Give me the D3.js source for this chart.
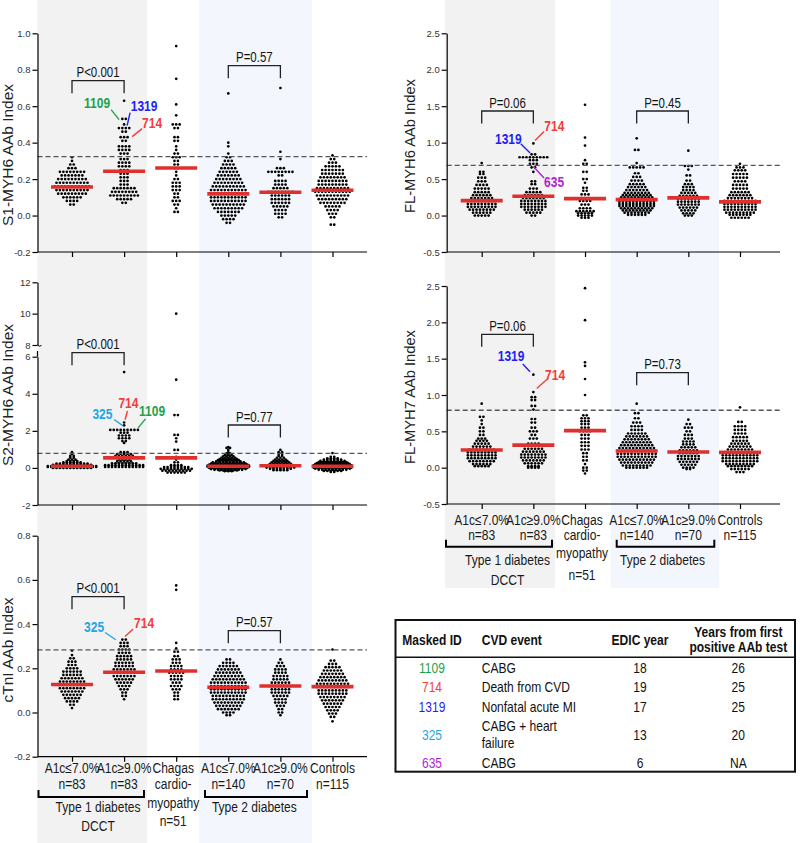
<!DOCTYPE html>
<html><head><meta charset="utf-8">
<script src="https://cdn.jsdelivr.net/npm/d3@7"></script>
<style>
body{margin:0;background:#fff}
svg{display:block}
text{font-family:"Liberation Sans",Arial,sans-serif}
</style>
</head><body>
<svg id="c" width="800" height="843"></svg>
<script>
// ---------------- DATA ----------------
const groupLabels = ["A1c\u22647.0%","A1c\u22659.0%","Chagas","A1c\u22647.0%","A1c\u22659.0%","Controls"];
const groupSub = ["n=83","n=83","cardio-","n=140","n=70","n=115"];
const chagasExtra = ["myopathy","n=51"];
const bracketLabels = [["Type 1 diabetes","DCCT"],["Type 2 diabetes"]];

const s1Rows = [
 [[0.32,1],[0.30,1],[0.28,2],[0.26,3],[0.24,8],[0.22,7],[0.20,9],[0.18,10],[0.16,11],[0.14,10],[0.12,9],[0.10,6],[0.08,4],[0.06,2]],
 [[0.63,1],[0.53,2],[0.50,1],[0.48,4],[0.46,2],[0.43,3],[0.41,2],[0.38,4],[0.36,4],[0.34,3],[0.31,3],[0.29,4],[0.27,4],[0.25,3],[0.23,3],[0.21,3],[0.19,3],[0.17,3],[0.15,7],[0.13,8],[0.11,9],[0.09,5],[0.07,2]],
 [[0.93,1],[0.75,1],[0.61,1],[0.55,1],[0.50,3],[0.48,2],[0.43,2],[0.41,2],[0.38,1],[0.36,1],[0.34,2],[0.32,3],[0.30,2],[0.28,2],[0.26,2],[0.24,1],[0.22,1],[0.20,2],[0.18,3],[0.16,3],[0.14,3],[0.12,2],[0.10,2],[0.08,3],[0.06,2],[0.04,1],[0.02,2]],
 [[0.67,1],[0.40,1],[0.38,1],[0.34,1],[0.32,2],[0.30,3],[0.28,4],[0.26,5],[0.24,6],[0.22,7],[0.20,8],[0.18,9],[0.16,10],[0.14,11],[0.12,12],[0.10,11],[0.08,11],[0.06,10],[0.04,9],[0.02,7],[0.00,5],[-0.02,4],[-0.04,2]],
 [[0.70,1],[0.35,1],[0.31,1],[0.26,3],[0.24,8],[0.22,2],[0.19,4],[0.17,4],[0.15,5],[0.13,8],[0.11,6],[0.09,6],[0.07,6],[0.05,5],[0.03,4],[0.01,4],[-0.01,2]],
 [[0.33,1],[0.31,2],[0.29,3],[0.27,5],[0.25,7],[0.23,7],[0.21,8],[0.19,9],[0.17,9],[0.15,10],[0.13,11],[0.11,10],[0.09,9],[0.07,8],[0.05,5],[0.03,4],[0.01,3],[-0.01,2],[-0.05,2]]
];
const s2Rows = [
 [[0.85,1],[0.75,1],[0.65,2],[0.55,2],[0.45,3],[0.37,4],[0.30,6],[0.23,10],[0.16,12],[0.10,15],[0.05,15],[0.0,12]],
 [[5.17,1],[2.45,1],[2.3,1],[2.05,9],[1.9,3],[1.75,4],[1.6,4],[1.45,2],[1.35,1],[0.85,3],[0.75,5],[0.65,6],[0.55,2],[0.45,4],[0.35,5],[0.25,8],[0.15,12],[0.05,12]],
 [[10.0,1],[4.76,1],[2.85,2],[1.78,2],[1.6,1],[1.42,1],[0.97,2],[0.6,1],[0.45,1],[0.3,2],[0.15,4],[0.05,8],[-0.05,10],[-0.15,9],[-0.25,6]],
 [[1.12,1],[1.08,2],[0.97,1],[0.85,1],[0.78,2],[0.7,3],[0.62,4],[0.55,5],[0.48,6],[0.42,7],[0.36,8],[0.3,10],[0.24,11],[0.18,12],[0.12,13],[0.06,13],[0.0,12],[-0.06,11],[-0.1,9],[-0.14,6],[-0.18,3]],
 [[0.97,1],[0.85,2],[0.75,2],[0.65,2],[0.55,3],[0.45,4],[0.38,5],[0.3,6],[0.22,7],[0.15,8],[0.08,9],[0.02,9],[-0.05,7],[-0.12,5]],
 [[0.8,1],[0.6,2],[0.52,4],[0.45,6],[0.38,8],[0.32,9],[0.26,10],[0.2,11],[0.14,12],[0.08,12],[0.02,12],[-0.04,11],[-0.1,9],[-0.16,6],[-0.22,2]]
];
const ctniRows = [
 [[0.28,1],[0.26,1],[0.245,2],[0.23,3],[0.215,3],[0.2,4],[0.185,6],[0.17,6],[0.155,7],[0.14,8],[0.125,9],[0.11,8],[0.095,7],[0.08,6],[0.065,5],[0.05,4],[0.035,2],[0.02,1]],
 [[0.33,2],[0.315,3],[0.3,3],[0.285,4],[0.27,4],[0.255,5],[0.24,5],[0.225,6],[0.21,6],[0.195,7],[0.18,8],[0.165,7],[0.15,6],[0.135,5],[0.12,4],[0.105,3],[0.09,2],[0.075,2],[0.06,1]],
 [[0.575,1],[0.555,1],[0.315,1],[0.29,1],[0.275,2],[0.255,2],[0.24,3],[0.225,3],[0.21,4],[0.195,4],[0.18,5],[0.165,4],[0.15,4],[0.135,3],[0.12,4],[0.105,3],[0.09,2],[0.075,2],[0.06,2]],
 [[0.24,2],[0.225,4],[0.21,6],[0.195,7],[0.18,8],[0.165,9],[0.15,10],[0.135,11],[0.12,11],[0.105,11],[0.09,11],[0.075,10],[0.06,10],[0.045,9],[0.03,8],[0.015,7],[0.0,4],[-0.012,2]],
 [[0.24,1],[0.225,2],[0.21,3],[0.195,4],[0.18,4],[0.165,5],[0.15,5],[0.135,6],[0.12,7],[0.105,6],[0.09,6],[0.075,5],[0.06,4],[0.045,4],[0.03,3],[0.015,2],[0.0,2],[-0.012,1]],
 [[0.285,1],[0.235,2],[0.22,3],[0.205,5],[0.19,6],[0.175,7],[0.16,8],[0.145,9],[0.13,10],[0.115,10],[0.1,9],[0.085,9],[0.07,8],[0.055,7],[0.04,6],[0.025,5],[0.01,4],[-0.005,3],[-0.02,2],[-0.04,1]]
];
const fl6Rows = [
 [[0.72,1],[0.6,2],[0.57,2],[0.52,3],[0.47,3],[0.42,4],[0.37,5],[0.32,5],[0.28,6],[0.24,7],[0.2,8],[0.16,9],[0.12,9],[0.08,8],[0.04,6],[0.0,5]],
 [[0.99,1],[0.84,2],[0.8,9],[0.76,3],[0.71,3],[0.66,2],[0.6,1],[0.47,2],[0.43,2],[0.37,3],[0.32,5],[0.28,6],[0.24,7],[0.2,8],[0.16,8],[0.12,8],[0.08,6],[0.04,5],[0.0,2]],
 [[1.52,1],[1.07,1],[0.96,1],[0.76,1],[0.71,2],[0.6,2],[0.5,2],[0.45,1],[0.38,2],[0.34,2],[0.29,3],[0.24,3],[0.2,4],[0.15,3],[0.1,4],[0.06,6],[0.03,5],[0.0,5],[-0.03,3]],
 [[1.06,1],[0.9,2],[0.72,1],[0.66,5],[0.58,2],[0.53,3],[0.48,4],[0.43,5],[0.39,6],[0.35,7],[0.31,8],[0.28,9],[0.25,10],[0.22,11],[0.19,11],[0.16,11],[0.13,11],[0.10,10],[0.07,9],[0.04,8],[0.01,6]],
 [[0.89,1],[0.68,3],[0.63,1],[0.55,2],[0.48,2],[0.43,3],[0.39,4],[0.35,4],[0.31,5],[0.27,6],[0.23,7],[0.19,7],[0.15,7],[0.11,6],[0.07,5],[0.03,4],[0.0,3]],
 [[0.71,1],[0.66,3],[0.62,4],[0.57,5],[0.52,5],[0.47,4],[0.42,5],[0.37,5],[0.32,6],[0.28,7],[0.24,8],[0.2,10],[0.16,10],[0.12,10],[0.08,10],[0.04,9],[0.01,7],[-0.03,6]]
];
const fl7Rows = [
 [[0.88,1],[0.7,2],[0.65,1],[0.6,1],[0.55,2],[0.5,2],[0.45,2],[0.4,3],[0.37,4],[0.33,5],[0.29,6],[0.25,8],[0.21,9],[0.17,9],[0.13,9],[0.09,8],[0.05,6],[0.02,5]],
 [[1.28,1],[1.04,1],[0.97,2],[0.93,2],[0.85,2],[0.8,1],[0.67,2],[0.62,2],[0.55,2],[0.5,3],[0.45,2],[0.4,3],[0.33,4],[0.3,6],[0.26,6],[0.22,7],[0.18,8],[0.14,8],[0.1,7],[0.06,6],[0.02,4],[0.0,4]],
 [[2.47,1],[2.03,1],[1.45,1],[1.4,1],[1.22,1],[1.0,1],[0.72,2],[0.68,3],[0.64,3],[0.6,3],[0.55,3],[0.5,4],[0.45,3],[0.4,3],[0.35,3],[0.3,3],[0.25,3],[0.2,2],[0.15,2],[0.1,2],[0.05,1],[0.0,2],[-0.04,2],[-0.08,1]],
 [[0.88,1],[0.75,2],[0.68,2],[0.62,3],[0.57,4],[0.52,4],[0.47,6],[0.43,7],[0.39,8],[0.35,9],[0.31,10],[0.27,11],[0.23,12],[0.19,12],[0.15,12],[0.11,11],[0.07,10],[0.03,9],[0.0,7]],
 [[0.66,1],[0.6,2],[0.55,3],[0.5,2],[0.45,3],[0.4,3],[0.36,4],[0.32,4],[0.28,5],[0.24,6],[0.2,6],[0.16,7],[0.12,7],[0.08,6],[0.04,5],[0.0,4],[-0.02,2]],
 [[0.83,1],[0.63,2],[0.57,4],[0.52,4],[0.47,4],[0.42,5],[0.37,5],[0.33,6],[0.29,7],[0.25,8],[0.21,10],[0.17,11],[0.13,11],[0.09,11],[0.05,9],[0.02,8],[-0.02,6],[-0.06,3]]
];

const s1Centers = [0.157,0.243,0.261,0.119,0.128,0.139];
const s2Centers = [0.09,0.54,0.54,0.09,0.12,0.09];
const ctniCenters = [0.127,0.182,0.188,0.114,0.12,0.117];
const fl6Centers = [0.205,0.264,0.232,0.219,0.242,0.187];
const fl7Centers = [0.243,0.31,0.51,0.23,0.216,0.21];

const cutoffs = {s1:0.323, s2:0.79, ctni:0.283, fl6:0.687, fl7:0.79};

const s1Ticks = [-0.2,0,0.2,0.4,0.6,0.8,1.0];
const s2TicksLo = [-2,0,2,4,6];
const s2TicksHi = [8,10,12];
const ctniTicks = [-0.2,0,0.2,0.4,0.6,0.8];
const flTicks = [-0.5,0,0.5,1.0,1.5,2.0,2.5];

const s1P = [[0,1,"P<0.001"],[3,4,"P=0.57"]];
const s2P = [[0,1,"P<0.001"],[3,4,"P=0.77"]];
const ctniP = [[0,1,"P<0.001"],[3,4,"P=0.57"]];
const fl6P = [[0,1,"P=0.06"],[3,4,"P=0.45"]];
const fl7P = [[0,1,"P=0.06"],[3,4,"P=0.73"]];

const s1Ann = [["1109",0.526],["1319",0.493],["714",0.433]];
const s2Ann = [["325",2.27],["714",2.6],["1109",2.16]];
const ctniAnn = [["325",0.329],["714",0.344]];
const fl6Ann = [["1319",0.857],["714",1.03],["635",0.673]];
const fl7Ann = [["1319",1.32],["714",1.09]];

const tableHeader = ["Masked ID","CVD event","EDIC year",["Years from first","positive AAb test"]];
const tableIds = ["1109","714","1319","325","635"];
const tableEvents = [["CABG"],["Death from CVD"],["Nonfatal acute MI"],["CABG + heart","failure"],["CABG"]];
const tableEdic = ["18","19","17","13","6"];
const tableYears = ["26","25","25","20","NA"];
const idColors = {"1109":"#1ba34a","714":"#f23c3c","1319":"#1e1ef5","325":"#1fa6e6","635":"#b21fd6"};

// ---------------- LAYOUT ----------------
const svg = d3.select("#c");
const FONT = '"Liberation Sans",Arial,sans-serif';
const DX = 3.45, R = 1.35;
const cols = {
 left: {axisX:37.5, xEnd:367, x0:72, x1:332.5, titleOff:-25, bands:[[37.5,147,"#f2f2f2"],[199,312,"#f3f7fd"]], bandBottom:843},
 right:{axisX:446.7, xEnd:780, x0:481.7, x1:740, titleOff:-32, bands:[[445,555,"#f2f2f2"],[610.7,719.3,"#f3f7fd"]], bandBottom:588}
};
Object.values(cols).forEach(C => {
  C.bands.forEach(([a,b,c]) => svg.append("rect").attr("x",a).attr("y",0).attr("width",b-a).attr("height",C.bandBottom).attr("fill",c));
});

// condensed text helper (horizontal squeeze of a real text element)
function ntext(parent, x, y, str, size, sx, anchor){
  return parent.append("text").attr("transform",`translate(${x},${y}) scale(${sx},1)`)
    .attr("font-size",size+"px").attr("text-anchor",anchor||"middle").text(str);
}

const annLayout = {
 s1:[[-5,-8,-10,-22,-11.5],[3,3,-13,17,-14.5],[8,10,-8,20,-8.5]],
 s2:[[-1,-9,-6.3,-20.7,-6.8],[1,2.3,-8.7,3.3,-11.8],[14,7.4,-9,14,-12.1]],
 ctni:[[-8.3,-10.7,-7.3,-21.7,-7.8],[1,8,-7.4,19,-8.9]],
 fl6:[[-3.3,-9.3,-9.3,-21.7,-8.8],[1.7,9,-9,19.3,-9.5],[0,10.7,11.6,20.7,20.5]],
 fl7:[[-3.3,-7.3,-7.7,-19,-11.2],[3.4,10,-9,18.3,-8.8]]
};

const panels = [
 {key:"s1",col:"left",title:"S1-MYH6 AAb Index",titleY:155,titleSize:15.5,rows:s1Rows,centers:s1Centers,domain:[-0.2,1.0],range:[252,33.3],ticks:s1Ticks,fmt:d=>d.toFixed(1),p:s1P,pTop:[80.7,65.7],ann:s1Ann},
 {key:"s2",col:"left",title:"S2-MYH6 AAb Index",titleY:395,titleSize:15.5,rows:s2Rows,centers:s2Centers,domain:[-2,6],range:[505,356.7],ticks:s2TicksLo,
   broken:{domain:[8,12],range:[345,282.3],ticks:s2TicksHi},fmt:d=>String(d),p:s2P,pTop:[352.7,425],ann:s2Ann},
 {key:"ctni",col:"left",title:"cTnI AAb Index",titleY:650,titleSize:15.5,rows:ctniRows,centers:ctniCenters,domain:[-0.2,0.8],range:[756.7,535.7],ticks:ctniTicks,fmt:d=>d.toFixed(1),p:ctniP,pTop:[596.7,630.7],ann:ctniAnn},
 {key:"fl6",col:"right",title:"FL-MYH6 AAb Index",titleY:146,titleSize:14.7,rows:fl6Rows,centers:fl6Centers,domain:[-0.5,2.5],range:[252,33.3],ticks:flTicks,fmt:d=>d.toFixed(1),p:fl6P,pTop:[111,111],ann:fl6Ann},
 {key:"fl7",col:"right",title:"FL-MYH7 AAb Index",titleY:397,titleSize:14.7,rows:fl7Rows,centers:fl7Centers,domain:[-0.5,2.5],range:[504,286],ticks:flTicks,fmt:d=>d.toFixed(1),p:fl7P,pTop:[334.3,372.7],ann:fl7Ann}
];

function styleAxis(sel){
  sel.selectAll("path,line").attr("stroke","#000").attr("stroke-width",1.2);
  sel.selectAll("text").attr("font-family",FONT).attr("font-size","9.5px").attr("fill","#333");
}

panels.forEach(P => {
  const C = cols[P.col];
  const g = svg.append("g");
  const x = d3.scalePoint().domain(d3.range(6)).range([C.x0, C.x1]);
  const lo = d3.scaleLinear().domain(P.domain).range(P.range);
  let y = lo, hi = null;
  if (P.broken) {
    hi = d3.scaleLinear().domain(P.broken.domain).range(P.broken.range);
    y = v => v > 7 ? hi(v) : lo(v);
  }
  const yBottom = P.range[0];

  P.rows.forEach((grp, gi) => {
    const pts = [];
    grp.forEach(([v,c]) => { for (let i=0;i<c;i++) pts.push({v, off:(i-(c-1)/2)*DX}); });
    g.append("g").selectAll("circle").data(pts).join("circle")
      .attr("cx", d => x(gi)+d.off).attr("cy", d => y(d.v)).attr("r", R).attr("fill","#000");
  });
  g.append("line").attr("x1",C.axisX).attr("x2",C.xEnd)
    .attr("y1",y(cutoffs[P.key])).attr("y2",y(cutoffs[P.key]))
    .attr("stroke","#555").attr("stroke-width",1.3).attr("stroke-dasharray","5,3");
  g.append("g").selectAll("line").data(P.centers).join("line")
    .attr("x1",(d,i)=>x(i)-21).attr("x2",(d,i)=>x(i)+21)
    .attr("y1",d=>y(d)).attr("y2",d=>y(d))
    .attr("stroke","#e0302e").attr("stroke-width",3.6);

  const ya = g.append("g").attr("transform",`translate(${C.axisX},0)`)
    .call(d3.axisLeft(lo).tickValues(P.ticks).tickSize(5).tickSizeOuter(0).tickPadding(2).tickFormat(P.fmt));
  styleAxis(ya);
  if (hi) {
    const yb = g.append("g").attr("transform",`translate(${C.axisX},0)`)
      .call(d3.axisLeft(hi).tickValues(P.broken.ticks).tickSize(5).tickSizeOuter(0).tickPadding(2).tickFormat(P.fmt));
    styleAxis(yb);
    const bx = C.axisX, by = P.broken.range[0];
    g.append("path").attr("d",`M${bx},${by} Q${bx+2},${by+2} ${bx+4},${by+0.5}`).attr("fill","none").attr("stroke","#000").attr("stroke-width",1);
    g.append("line").attr("x1",bx).attr("x2",bx).attr("y1",by+6).attr("y2",P.range[1]).attr("stroke","#000").attr("stroke-width",1.2);
  }
  const xa = g.append("g").attr("transform",`translate(0,${yBottom})`)
    .call(d3.axisBottom(x).tickSize(5).tickSizeOuter(0).tickFormat(""));
  xa.select(".domain").remove();
  styleAxis(xa);
  g.append("line").attr("x1",C.axisX).attr("x2",C.xEnd).attr("y1",yBottom).attr("y2",yBottom).attr("stroke","#000").attr("stroke-width",1.2);

  g.append("text").attr("transform",`translate(${C.axisX+C.titleOff},${P.titleY}) rotate(-90)`)
    .attr("text-anchor","middle").attr("font-size",P.titleSize+"px").attr("fill","#222").text(P.title);

  P.p.forEach(([a,b,lab],k) => {
    const t = P.pTop[k], x1 = x(a), x2 = x(b);
    g.append("path").attr("d",`M${x1},${t+12.5}V${t}H${x2}V${t+12.5}`).attr("fill","none").attr("stroke","#222").attr("stroke-width",1.3);
    ntext(g,(x1+x2)/2,t-3.5,lab,14,0.82).attr("fill","#111");
  });

  P.ann.forEach(([id,v],k) => {
    const [ex,sx,sy,tx,ty] = annLayout[P.key][k];
    const X = x(1)+ex, Y = y(v);
    g.append("line").attr("x1",X+sx).attr("y1",Y+sy).attr("x2",X).attr("y2",Y).attr("stroke",idColors[id]).attr("stroke-width",1.4);
    ntext(g,X+tx,Y+ty,id,15,0.8).attr("font-weight","bold").attr("fill",idColors[id]);
  });
});

function catLabels(C, base){
  const x = d3.scalePoint().domain(d3.range(6)).range([C.x0, C.x1]);
  const g = svg.append("g").attr("fill","#1a1a1a");
  const FS = 14.5, SX = 0.83;
  groupLabels.forEach((l,i)=> ntext(g, x(i)+(i===2?-3:0), base.r1, l, FS, SX));
  groupSub.forEach((l,i)=> ntext(g, x(i)+(i===2?-3:0), base.r2, l, FS, SX));
  ntext(g, x(2)-3, base.my, chagasExtra[0], FS, SX);
  ntext(g, x(2)-3, base.my2, chagasExtra[1], FS, SX);
  [[C.bands[0][0]+1,C.bands[0][1]-3,0],[C.bands[1][0]+6,C.bands[1][1]-5,1]].forEach(([a,b,k])=>{
    svg.append("path").attr("d",`M${a},${base.br-7}V${base.br}H${b}V${base.br-7}`).attr("fill","none").attr("stroke","#000").attr("stroke-width",2);
    bracketLabels[k].forEach((t,j)=> ntext(g, (x(k*3)+x(k*3+1))/2, base.t1+j*base.dl, t, FS, SX));
  });
}
catLabels(cols.left, {r1:772.5, r2:789, my:808, my2:826, br:797, t1:812, dl:19});
catLabels(cols.right,{r1:524.5, r2:540, my:558, my2:579.5, br:546.7, t1:565, dl:19.5});

(function(){
  const g = svg.append("g").attr("fill","#111");
  const FS = 14, SX = 0.86;
  g.append("rect").attr("x",395.5).attr("y",620).attr("width",399.5).attr("height",151.7).attr("fill","none").attr("stroke","#111").attr("stroke-width",2);
  g.append("line").attr("x1",395.5).attr("x2",795).attr("y1",657.3).attr("y2",657.3).attr("stroke","#111").attr("stroke-width",1.5);
  const cx = [432, 481.7, 640, 738.3];
  const hb = g.append("g").attr("font-weight","bold");
  ntext(hb,cx[0],645,tableHeader[0],FS,SX);
  ntext(hb,cx[1],645,tableHeader[1],FS,SX,"start");
  ntext(hb,cx[2],645,tableHeader[2],FS,SX);
  tableHeader[3].forEach((t,j)=> ntext(hb,cx[3],636.5+j*15,t,FS,SX));
  const rowY = [673,692,711.5,740,767.5];
  tableIds.forEach((id,i)=>{
    ntext(g,cx[0],rowY[i],id,FS,SX).attr("fill",idColors[id]);
    const ev = tableEvents[i];
    ev.forEach((t,j)=> ntext(g,cx[1],rowY[i]+(ev.length>1?(j===0?-9:7.5):0),t,FS,SX,"start"));
    ntext(g,cx[2],rowY[i],tableEdic[i],FS,SX);
    ntext(g,cx[3],rowY[i],tableYears[i],FS,SX);
  });
})();
</script>
</body></html>
